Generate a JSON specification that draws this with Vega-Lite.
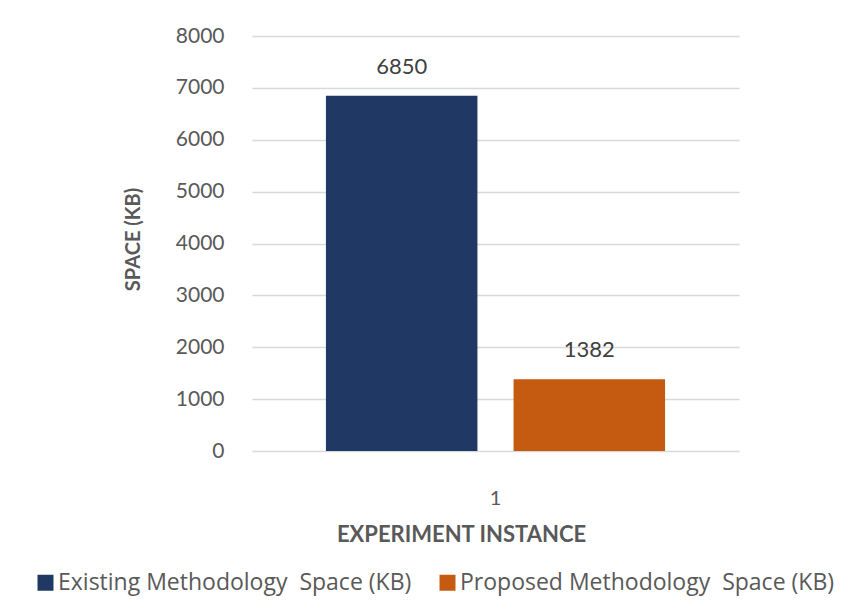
{
  "$schema": "https://vega.github.io/schema/vega-lite/v6.json",
  "width": 487,
  "height": 415,
  "autosize": "none",
  "padding": {"left": 252, "top": 36, "right": 103, "bottom": 164},
  "background": "white",
  "config": {
    "font": "Lato",
    "view": {"stroke": null},
    "axis": {"labelColor": "#595959", "titleColor": "#595959", "labelFontWeight": "normal"},
    "text": {"font": "Lato"}
  },
  "data": {
    "values": [
      {"instance": "1", "series": "Existing Methodology \u00a0Space (KB)", "space": 6850},
      {"instance": "1", "series": "Proposed Methodology \u00a0Space (KB)", "space": 1382}
    ]
  },
  "encoding": {
    "x": {
      "field": "instance",
      "type": "nominal",
      "scale": {"paddingInner": 0, "paddingOuter": 0.218},
      "axis": {
        "title": "EXPERIMENT INSTANCE",
        "labelAngle": 0,
        "labelFontSize": 20,
        "labelPadding": 37,
        "ticks": false,
        "domain": false,
        "titleFontSize": 22,
        "titleFontWeight": "bold",
        "titleBaseline": "middle",
        "titleAlign": "center",
        "titleX": 209,
        "titleY": 83
      }
    },
    "xOffset": {
      "field": "series",
      "type": "nominal",
      "scale": {"paddingInner": 0.1925, "paddingOuter": 0}
    },
    "y": {
      "field": "space",
      "type": "quantitative",
      "scale": {"domain": [0, 8000]},
      "axis": {
        "title": "SPACE (KB)",
        "values": [0, 1000, 2000, 3000, 4000, 5000, 6000, 7000, 8000],
        "format": "d",
        "labelFontSize": 21,
        "labelPadding": 28,
        "ticks": false,
        "domain": false,
        "gridColor": "#d9d9d9",
        "gridWidth": 1.5,
        "titleFontSize": 20,
        "titleFontWeight": "bold",
        "titleAngle": -90,
        "titleBaseline": "middle",
        "titleX": -119,
        "titleY": 203
      }
    }
  },
  "layer": [
    {
      "mark": {"type": "bar"},
      "encoding": {
        "color": {
          "field": "series",
          "type": "nominal",
          "scale": {"range": ["#203864", "#C55A11"]},
          "legend": {
            "title": null,
            "orient": "none",
            "direction": "horizontal",
            "legendX": -218,
            "legendY": 535,
            "symbolType": "square",
            "symbolSize": 256,
            "symbolStrokeWidth": 0,
            "symbolOpacity": 1,
            "labelFont": "Open Sans",
            "labelFontSize": 23,
            "labelColor": "#595959",
            "labelLimit": 0,
            "columnPadding": 24,
            "labelOffset": 1
          }
        }
      }
    },
    {
      "mark": {"type": "text", "baseline": "bottom", "dy": -17, "fontSize": 22, "color": "#404040"},
      "encoding": {
        "text": {"field": "space", "type": "quantitative", "format": "d"}
      }
    }
  ]
}
